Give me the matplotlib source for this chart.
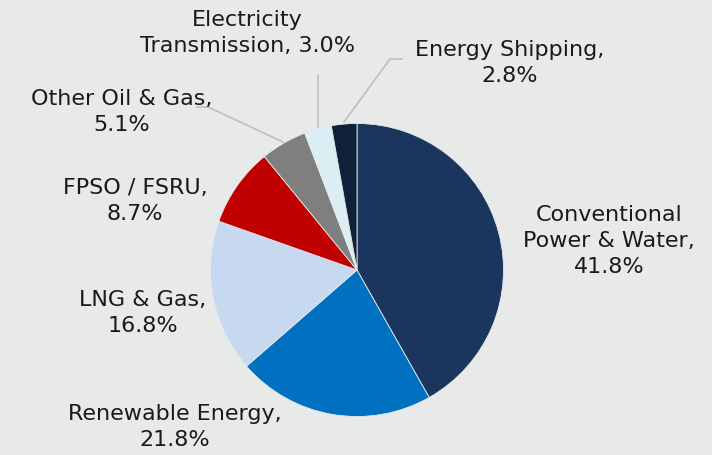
import matplotlib.pyplot as plt

# data
labels = ["Conventional\nPower & Water", "Renewable Energy", "LNG & Gas", "FPSO / FSRU",
          "Other Oil & Gas", "Electricity\nTransmission", "Energy Shipping"]
shares = [41.8, 21.8, 16.8, 8.7, 5.1, 3.0, 2.8]
colors = ["#1A365E", "#0070C0", "#C6D9F0", "#C00000", "#7F7F7F", "#DAEEF3", "#10203A"]

W, H = 712, 456
bg = "#E8E9E9"

def py(y):
    # pixel-from-top -> data y
    return H - y

fig = plt.figure(figsize=(W / 100, H / 100), dpi=100, facecolor=bg)
ax = fig.add_axes([0, 0, 1, 1])
ax.set_facecolor(bg)

ax.pie(shares, colors=colors, startangle=90, counterclock=False,
       center=(357, py(271)), radius=146.5,
       wedgeprops=dict(linewidth=0.6, edgecolor=bg))

ax.set_xlim(0, W)
ax.set_ylim(0, H)
ax.set_aspect("equal")
ax.axis("off")

# label text, centered at (x, y) in px from top-left
label_text = [
    "Conventional\nPower & Water,\n41.8%",
    "Renewable Energy,\n21.8%",
    "LNG & Gas,\n16.8%",
    "FPSO / FSRU,\n8.7%",
    "Other Oil & Gas,\n5.1%",
    "Electricity\nTransmission, 3.0%",
    "Energy Shipping,\n2.8%",
]
label_pos = [(609, 241), (175, 427), (143, 313), (135, 201), (122, 112), (247, 33), (510, 63)]

for txt, (x, y) in zip(label_text, label_pos):
    ax.text(x, py(y), txt, ha="center", va="center", fontsize=16,
            family="DejaVu Sans", color="#1A1A1A", linespacing=1.35)

# leader lines
leaders = [
    [(197, 108), (208, 108), (283, 143)],
    [(318, 76), (318, 128)],
    [(402, 60), (390, 60), (344, 123)],
]
for pts in leaders:
    ax.plot([p[0] for p in pts], [py(p[1]) for p in pts], color="#BFBFBF", lw=1.2)

fig.savefig("out.png", dpi=100, facecolor=bg)
